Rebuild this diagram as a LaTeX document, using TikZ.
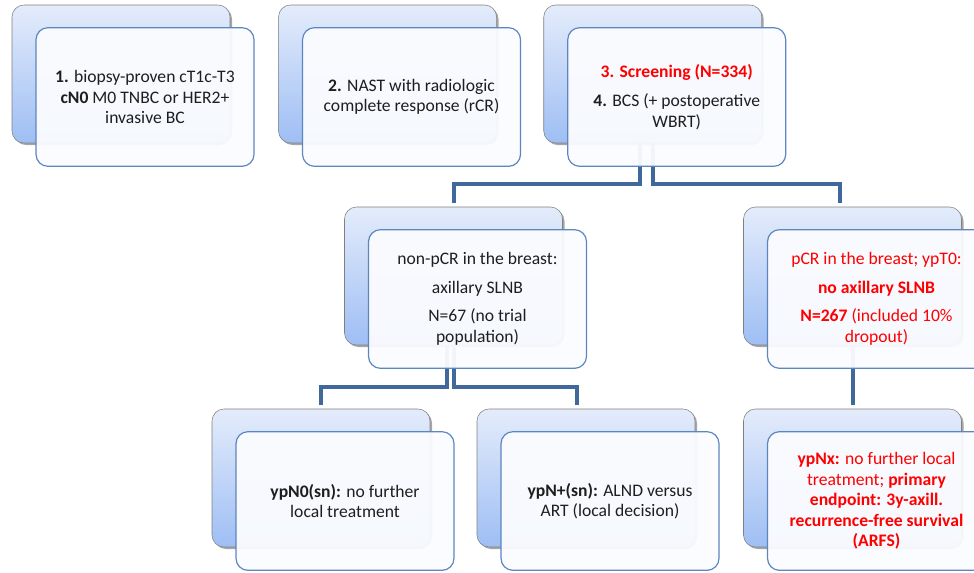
\documentclass[tikz,border=0pt]{standalone}
\usepackage{fontspec}
\setmainfont{Carlito}
\usetikzlibrary{positioning,shadows}

\definecolor{cardtop}{RGB}{228,236,251}
\definecolor{cardbot}{RGB}{158,190,244}
\definecolor{cardline}{RGB}{128,128,128}
\definecolor{frontline}{RGB}{92,134,192}
\definecolor{frontfill}{RGB}{251,252,255}
\definecolor{linkblue}{RGB}{64,104,155}
\definecolor{inktext}{RGB}{30,30,30}

\begin{document}
\begin{tikzpicture}[
  x=0.75pt, y=-0.75pt,
  back/.style={draw=cardline, rounded corners=9pt, minimum width=163.5pt, minimum height=103.5pt,
    top color=cardtop, bottom color=cardbot,
    drop shadow={shadow xshift=1.5pt, shadow yshift=-1.5pt, opacity=0.35, fill=black}},
  front/.style={draw=frontline, line width=0.9pt, rounded corners=9pt, minimum width=163.5pt, minimum height=104pt,
    fill=frontfill, fill opacity=0.95, text opacity=1, text=inktext, align=center,
    font=\fontsize{13.2}{15.4}\selectfont},
  hot/.style={text=red},
  link/.style={draw=linkblue, line width=3pt, shorten >=3pt}
]
\useasboundingbox (0,0) rectangle (974,572);

% back cards
\node[back] (incl-b) at (121,74) {};
\node[back, right=36pt of incl-b] (nast-b) {};
\node[back, right=35pt of nast-b] (scr-b) {};
\node[back] (npcr-b) at (453.5,276) {};
\node[back] (pcr-b) at (852.5,276) {};
\node[back] (pn0-b) at (321,478) {};
\node[back] (pnp-b) at (586,478) {};
\node[back] (pnx-b) at (852.5,478) {};

% connectors
\draw[link] ([shift={(-13,0)}]scr-b.south) -- ++(0,41) -| (npcr-b.north);
\draw[link] (scr-b.south) -- ++(0,41) -| ([shift={(-13,0)}]pcr-b.north);
\draw[link] ([shift={(-7,0)}]npcr-b.south) -- ++(0,42) -| (pn0-b.north);
\draw[link] (npcr-b.south) -- ++(0,42) -| ([shift={(-9,0)}]pnp-b.north);
\draw[link] (pcr-b.south) -- (pnx-b.north);

% front cards
\node[front] (incl) at ([shift={(24,23)}]incl-b.center)
  {\textbf{1.} biopsy-proven cT1c-T3\\\textbf{cN0} M0 TNBC or HER2+\\invasive BC};
\node[front] (nast) at ([shift={(24,23)}]nast-b.center)
  {\textbf{2.} NAST with radiologic\\complete response (rCR)};
\node[front] (scr) at ([shift={(24,23)}]scr-b.center)
  {{\color{red}\textbf{3. Screening (N=334)}}\\[7pt]\textbf{4.} BCS (+ postoperative\\WBRT)};
\node[front] (npcr) at ([shift={(24,23)}]npcr-b.center)
  {non-pCR in the breast:\\[6pt]axillary SLNB\\[6pt]N=67 (no trial\\population)};
\node[front, hot] (pcr) at ([shift={(24,23)}]pcr-b.center)
  {pCR in the breast; ypT0:\\[6pt]\textbf{no axillary SLNB}\\[6pt]\textbf{N=267} (included 10\%\\dropout)};
\node[front] (pn0) at ([shift={(24,23)}]pn0-b.center)
  {\textbf{ypN0(sn):} no further\\local treatment};
\node[front] (pnp) at ([shift={(24,23)}]pnp-b.center)
  {\textbf{ypN+(sn):} ALND versus\\ART (local decision)};
\node[front, hot] (pnx) at ([shift={(24,23)}]pnx-b.center)
  {\textbf{ypNx:} no further local\\treatment; \textbf{primary}\\\textbf{endpoint: 3y-axill.}\\\textbf{recurrence-free survival}\\\textbf{(ARFS)}};
\end{tikzpicture}
\end{document}
